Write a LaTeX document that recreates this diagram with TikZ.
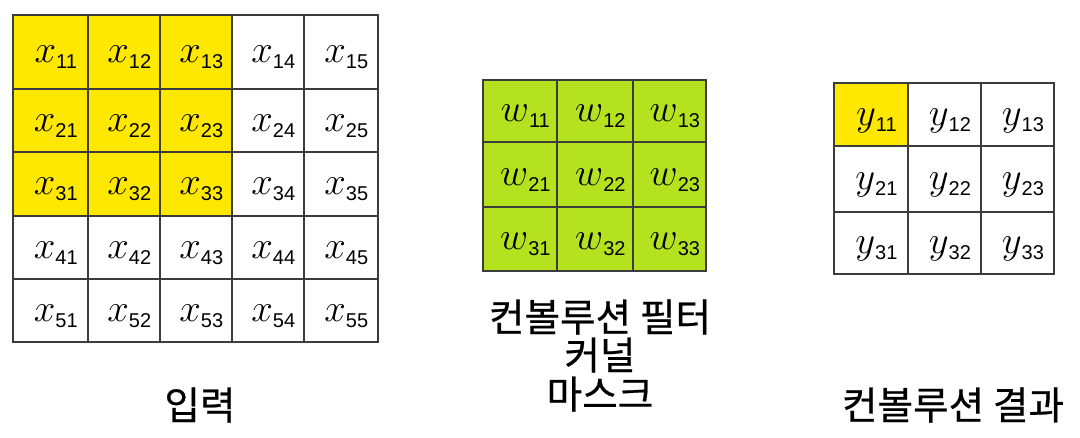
\RequirePackage{fix-cm}
\documentclass[tikz,border=0pt]{standalone}
\usepackage{fontspec}
\usetikzlibrary{fit}
\newfontfamily\kr[FakeBold=0.6]{Noto Sans CJK KR}
\newfontfamily\subf{Liberation Sans}
\definecolor{yel}{RGB}{255,232,0}
\definecolor{grn}{RGB}{180,226,30}
\definecolor{bord}{RGB}{60,60,60}
\newcommand\ml[2]{\kern8pt\raisebox{-8pt}[0pt][0pt]{{\fontsize{29}{29}\selectfont$#1$}\raisebox{-4.5pt}{\subf\fontsize{15}{15}\selectfont #2}}}
\tikzset{
  cellst/.style={draw=bord, line width=1.1pt, inner sep=0pt, text=black},
  captext/.style={font=\kr\fontsize{29}{34}\selectfont, align=center, inner sep=0pt}
}
\begin{document}
\begin{tikzpicture}[x=0.75pt,y=-0.75pt]
\useasboundingbox (0,0) rectangle (1080,438);
% input grid
\def\xs{{13,88,160,232,304,378}}
\def\ys{{15,89,152,216,279,342}}
\foreach \r in {1,...,5}{
  \foreach \c in {1,...,5}{
    \pgfmathsetmacro\xa{\xs[\c-1]}
    \pgfmathsetmacro\xb{\xs[\c]}
    \pgfmathsetmacro\ya{\ys[\r-1]}
    \pgfmathsetmacro\yb{\ys[\r]}
    \pgfmathtruncatemacro\hl{(\r<4)&&(\c<4)}
    \ifnum\hl=1 \def\fc{yel}\else\def\fc{white}\fi
    \node[cellst, fill=\fc, fit={(\xa,\ya) (\xb,\yb)}] (x\r\c) {\ml{x}{\r\c}};
  }
}
% kernel grid
\def\kxs{{483,557,633,706}}
\def\kys{{80,142,207,271}}
\foreach \r in {1,...,3}{
  \foreach \c in {1,...,3}{
    \pgfmathsetmacro\xa{\kxs[\c-1]}
    \pgfmathsetmacro\xb{\kxs[\c]}
    \pgfmathsetmacro\ya{\kys[\r-1]}
    \pgfmathsetmacro\yb{\kys[\r]}
    \node[cellst, fill=grn, fit={(\xa,\ya) (\xb,\yb)}] (w\r\c) {\ml{w}{\r\c}};
  }
}
% output grid
\def\oxs{{834,908,981,1054}}
\def\oys{{83,146,212,274}}
\foreach \r in {1,...,3}{
  \foreach \c in {1,...,3}{
    \pgfmathsetmacro\xa{\oxs[\c-1]}
    \pgfmathsetmacro\xb{\oxs[\c]}
    \pgfmathsetmacro\ya{\oys[\r-1]}
    \pgfmathsetmacro\yb{\oys[\r]}
    \pgfmathtruncatemacro\hl{(\r==1)&&(\c==1)}
    \ifnum\hl=1 \def\fc{yel}\else\def\fc{white}\fi
    \node[cellst, fill=\fc, fit={(\xa,\ya) (\xb,\yb)}] (y\r\c) {\ml{y}{\r\c}};
  }
}
\node[captext] (capin) at (200,405) {입력};
\node[captext] (capk1) at (600,317) {컨볼루션 필터};
\node[captext] (capk2) at (600,355) {커널};
\node[captext] (capk3) at (600,394) {마스크};
\node[captext] (capout) at (953,405) {컨볼루션 결과};
\end{tikzpicture}
\end{document}
